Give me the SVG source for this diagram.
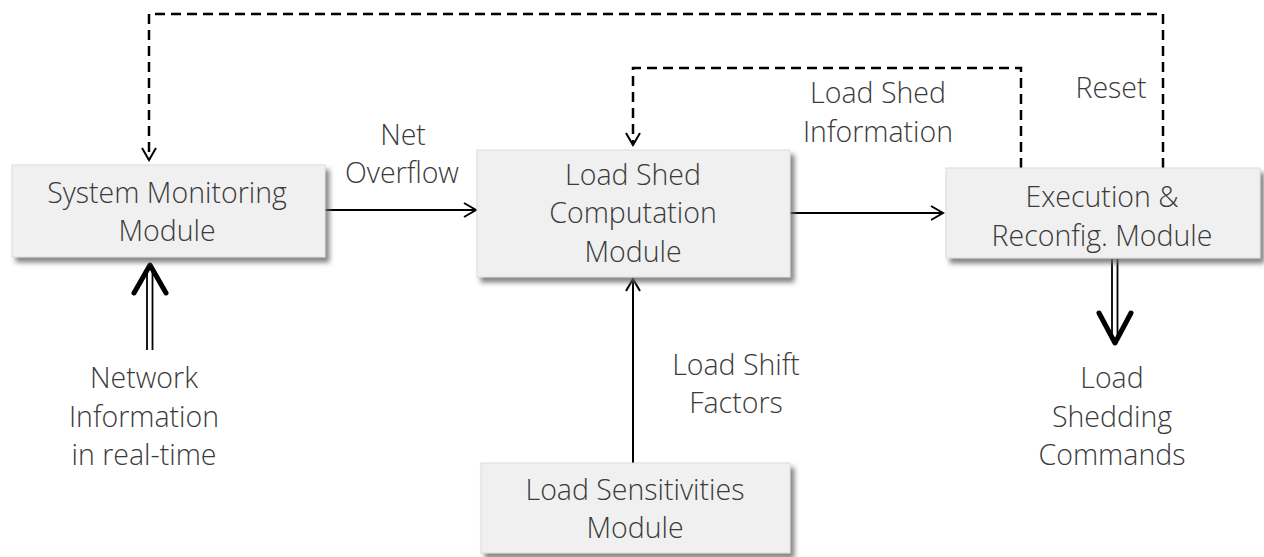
<svg xmlns="http://www.w3.org/2000/svg" width="1264" height="557" viewBox="0 0 1264 557">
<style>
text{font-family:"Open Sans","Liberation Sans",sans-serif;font-weight:300;font-size:28.5px;fill:#3a3a3a;text-anchor:middle}
.box{fill:#f0f0f0;stroke:#dcdcdc;stroke-width:1}
.ln{fill:none;stroke:#000;stroke-width:2}
.dash{fill:none;stroke:#000;stroke-width:2.5;stroke-dasharray:10,6}
.thk{fill:none;stroke:#000;stroke-width:5;stroke-linecap:round;stroke-linejoin:round}
.dbl{fill:none;stroke:#000;stroke-width:1.8}
</style>
<defs>
<filter id="sh" x="-10%" y="-10%" width="125%" height="135%">
<feDropShadow dx="4" dy="5" stdDeviation="2.5" flood-color="#666" flood-opacity="0.8"/>
</filter>
<marker id="ah" markerWidth="16" markerHeight="16" refX="14" refY="8" orient="auto" markerUnits="userSpaceOnUse">
<path d="M2,1 L14,8 L2,15" fill="none" stroke="#000" stroke-width="2"/>
</marker>
</defs>
<rect width="1264" height="557" fill="#fff"/>
<g id="connectors">
<path class="dash" d="M1163,168 V14 H149 V160" marker-end="url(#ah)"/>
<path class="dash" d="M1021,168 V68 H633 V145" marker-end="url(#ah)"/>
<line class="ln" x1="325" y1="210" x2="476" y2="210" marker-end="url(#ah)"/>
<line class="ln" x1="790" y1="213" x2="943" y2="213" marker-end="url(#ah)"/>
<line class="ln" x1="633" y1="463" x2="633" y2="279" marker-end="url(#ah)"/>
<line class="dbl" x1="147" y1="350" x2="147" y2="268"/>
<line class="dbl" x1="152.5" y1="350" x2="152.5" y2="268"/>
<path class="thk" d="M134,293 L150,265 L166,293"/>
<line class="dbl" x1="1112" y1="259" x2="1112" y2="340"/>
<line class="dbl" x1="1117.5" y1="259" x2="1117.5" y2="340"/>
<path class="thk" d="M1099,313 L1115,343 L1131,313"/>
<text x="403" y="145">Net</text>
<text x="402" y="183">Overflow</text>
<text x="878" y="103">Load Shed</text>
<text x="878" y="142">Information</text>
<text x="1111" y="98">Reset</text>
<text x="736" y="375">Load Shift</text>
<text x="736" y="413">Factors</text>
<text x="144" y="388">Network</text>
<text x="144" y="427">Information</text>
<text x="144" y="465">in real-time</text>
<text x="1112" y="388">Load</text>
<text x="1112" y="427">Shedding</text>
<text x="1112" y="465">Commands</text>
</g>
<g id="system-monitoring">
<rect class="box" x="12" y="165" width="313" height="92" filter="url(#sh)"/>
<text x="167" y="203">System Monitoring</text>
<text x="167" y="241">Module</text>
</g>
<g id="load-shed-computation">
<rect class="box" x="477" y="150" width="313" height="127" filter="url(#sh)"/>
<text x="633" y="185">Load Shed</text>
<text x="633" y="223">Computation</text>
<text x="633" y="262">Module</text>
</g>
<g id="execution-reconfig">
<rect class="box" x="946" y="168" width="314" height="90" filter="url(#sh)"/>
<text x="1102" y="207">Execution &amp;</text>
<text x="1102" y="246">Reconfig. Module</text>
</g>
<g id="load-sensitivities">
<rect class="box" x="481" y="463" width="309" height="90" filter="url(#sh)"/>
<text x="635" y="500">Load Sensitivities</text>
<text x="635" y="538">Module</text>
</g>
</svg>
